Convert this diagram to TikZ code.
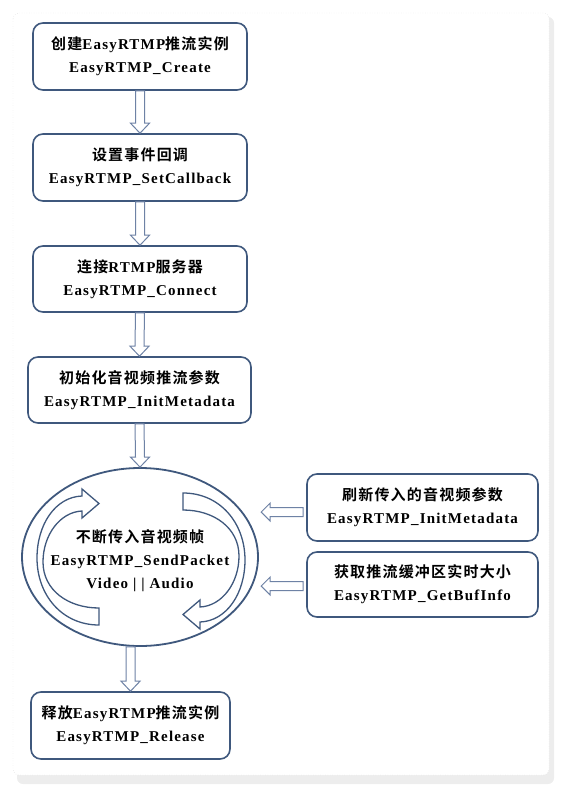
\documentclass[tikz,border=0pt]{standalone}
\usepackage{fontspec}
\setmainfont{Liberation Serif}[LetterSpace=8]
\newfontfamily\cjk{Noto Sans CJK SC}[BoldFont={* Bold},LetterSpace=8]
\usetikzlibrary{shapes.geometric,calc}
\newcommand{\zh}[1]{{\cjk\bfseries #1}}
\definecolor{boxblue}{RGB}{63,88,125}
\definecolor{arrowblue}{RGB}{110,130,165}
\tikzset{
  stepbox/.style={draw=boxblue, line width=1.6pt, rounded corners=10pt, fill=white,
    align=center, inner sep=0pt, font=\bfseries\fontsize{15}{23}\selectfont},
  harrow/.style={draw=arrowblue, line width=1pt, fill=white, line join=miter},
  curvarrow/.style={draw=boxblue, line width=1.3pt, fill=white},
  txt/.style={align=center, inner sep=0pt, font=\bfseries\fontsize{15}{23}\selectfont}
}
\newcommand{\hollowdown}[2]{%
  \path #1 coordinate (hs) #2 coordinate (he);
  \draw[harrow] ($(hs)+(-4.5,0)$) -- ($(he)+(-4.5,-10)$) -- ($(he)+(-9.5,-10)$) -- (he)
    -- ($(he)+(9.5,-10)$) -- ($(he)+(4.5,-10)$) -- ($(hs)+(4.5,0)$) -- cycle;}
\newcommand{\hollowleft}[2]{%
  \path #1 coordinate (hs) #2 coordinate (he);
  \draw[harrow] ($(hs)+(0,-4.5)$) -- ($(he)+(9,-4.5)$) -- ($(he)+(9,-9)$) -- (he)
    -- ($(he)+(9,9)$) -- ($(he)+(9,4.5)$) -- ($(hs)+(0,4.5)$) -- cycle;}
\begin{document}
\begin{tikzpicture}[x=1pt,y=-1pt]
\useasboundingbox (0,0) rectangle (563,789);
% background frame
\fill[gray!14, rounded corners=6pt] (17,17) rectangle (554,784);
\draw[gray!35, dotted, fill=white, rounded corners=6pt] (13,13) rectangle (549,775);

% nodes
\node[stepbox, minimum width=214pt, minimum height=67pt] (b1) at (140,56.5)
  {\zh{创建}EasyRTMP\zh{推流实例}\\EasyRTMP\_Create};
\node[stepbox, minimum width=214pt, minimum height=67pt] (b2) at (140,167.5)
  {\zh{设置事件回调}\\EasyRTMP\_SetCallback};
\node[stepbox, minimum width=214pt, minimum height=66pt] (b3) at (140,279)
  {\zh{连接}RTMP\zh{服务器}\\EasyRTMP\_Connect};
\node[stepbox, minimum width=223pt, minimum height=66pt] (b4) at (139.5,390)
  {\zh{初始化音视频推流参数}\\EasyRTMP\_InitMetadata};
\node[draw=boxblue, line width=1.8pt, ellipse, minimum width=236pt, minimum height=178pt,
  inner sep=0pt] (ell) at (140,557) {};
\node[stepbox, minimum width=231pt, minimum height=67pt] (r1) at (422.5,507.5)
  {\zh{刷新传入的音视频参数}\\EasyRTMP\_InitMetadata};
\node[stepbox, minimum width=231pt, minimum height=65pt] (r2) at (422.5,584.5)
  {\zh{获取推流缓冲区实时大小}\\EasyRTMP\_GetBufInfo};
\node[stepbox, minimum width=199pt, minimum height=67pt] (b5) at (130.5,725.5)
  {\zh{释放}EasyRTMP\zh{推流实例}\\EasyRTMP\_Release};

% circular arrows inside the ellipse
\draw[curvarrow] (99,625) .. controls (62,625) and (37,595) .. (37,558)
  .. controls (37,525) and (55,497) .. (82,496) -- (82,489) -- (99,503.5) -- (82,518) -- (82,511)
  .. controls (60,512) and (43,535) .. (43,562) .. controls (43,590) and (68,608) .. (99,608) -- cycle;
\draw[curvarrow, rotate around={180:(141,559)}] (99,625) .. controls (62,625) and (37,595) .. (37,558)
  .. controls (37,525) and (55,497) .. (82,496) -- (82,489) -- (99,503.5) -- (82,518) -- (82,511)
  .. controls (60,512) and (43,535) .. (43,562) .. controls (43,590) and (68,608) .. (99,608) -- cycle;
\node[txt] (elltxt) at (140,561)
  {\zh{不断传入音视频帧}\\EasyRTMP\_SendPacket\\Video | | Audio};

% connectors
\hollowdown{(b1.south)}{(b2.north)}
\hollowdown{(b2.south)}{(b3.north)}
\hollowdown{(b3.south)}{(b4.north)}
\hollowdown{(b4.south)}{(ell.north)}
\hollowdown{(b5.north |- ell.south)}{(b5.north)}
\hollowleft{($(r1.west)+(-3,4.5)$)}{($(r1.west)+(-45,4.5)$)}
\hollowleft{($(r2.west)+(-3,1.5)$)}{($(r2.west)+(-45,1.5)$)}
\end{tikzpicture}
\end{document}
